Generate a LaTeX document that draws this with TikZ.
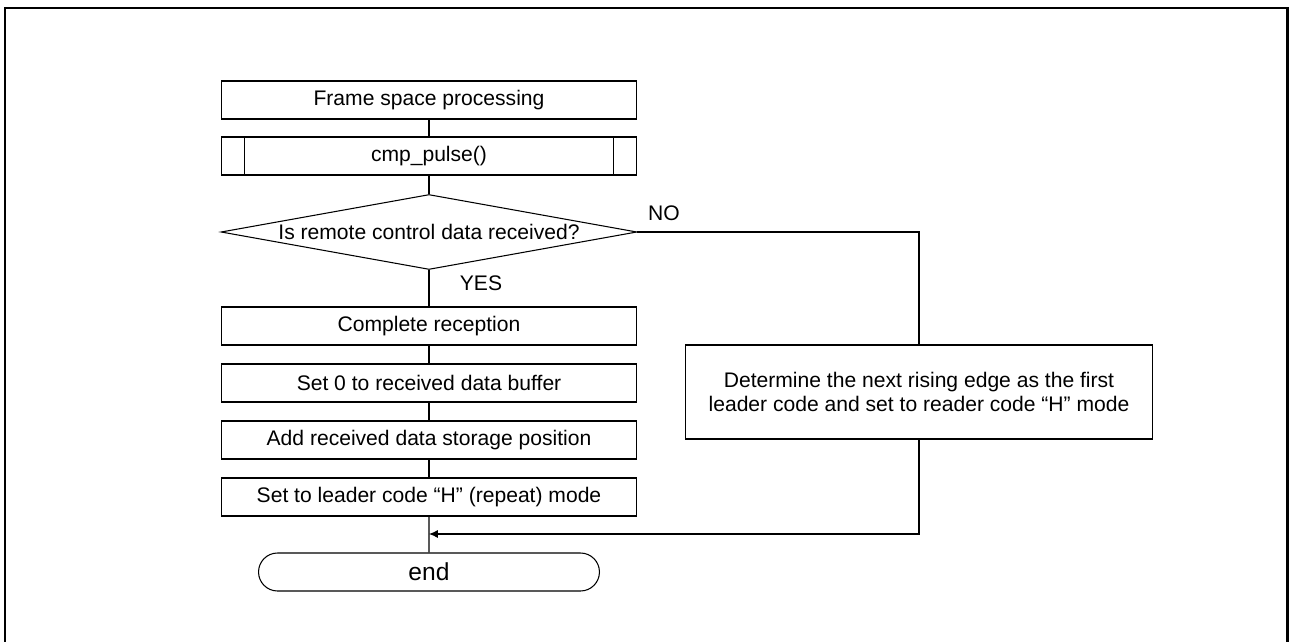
\documentclass[tikz,border=0pt]{standalone}
\usepackage{fontspec}
\setmainfont{Liberation Sans}
\usetikzlibrary{shapes.geometric, shapes.misc, arrows.meta}

\tikzset{
  proc/.style={rectangle, draw, line width=0.6pt, minimum width=8.32cm, minimum height=0.76cm, inner sep=0pt},
  decide/.style={diamond, draw, line width=0.6pt, aspect=5.55, minimum width=8.32cm, minimum height=1.5cm, inner sep=0pt},
  term/.style={rounded rectangle, draw, line width=0.6pt, minimum width=6.82cm, minimum height=0.76cm, inner sep=0pt, font=\fontsize{14pt}{16pt}\selectfont},
  flow/.style={line width=0.6pt}
}

\begin{document}
\begin{tikzpicture}[x=0.02cm, y=-0.02cm, font=\fontsize{12pt}{14pt}\selectfont]

\useasboundingbox (0, 0) rectangle (1289, 642);
\draw[line width=1.7pt] (5, 642) -- (5, 8) -- (1287, 8) -- (1287, 642);

\node [proc] (frame) at (429, 100) {Frame space processing};
\node [proc] (cmp) at (429, 156) {cmp\_pulse()};
\node [decide] (check) at (429, 232) {Is remote control data received?};
\node [proc] (recv) at (429, 326) {Complete reception};
\node [proc] (clear) at (429, 383) {Set 0 to received data buffer};
\node [proc] (addpos) at (429, 440) {Add received data storage position};
\node [proc] (setlead) at (429, 497) {Set to leader code “H” (repeat) mode};
\node [term] (finish) at (429, 572) {end};
\node [rectangle, draw, line width=0.6pt, minimum width=9.36cm, minimum height=1.88cm, align=center, inner sep=0pt] (first) at (919, 392)
  {Determine the next rising edge as the first\\leader code and set to reader code “H” mode};

\node (yes) at (481, 283) {YES};
\node (no) at (664, 213) {NO};
\coordinate (join) at (429, 534);

\draw[flow] ([xshift=0.48cm]cmp.north west) -- ([xshift=0.48cm]cmp.south west);
\draw[flow] ([xshift=-0.48cm]cmp.north east) -- ([xshift=-0.48cm]cmp.south east);

\draw[flow] (frame) -- (cmp);
\draw[flow] (cmp) -- (check);
\draw[flow] (check) -- (recv);
\draw[flow] (recv) -- (clear);
\draw[flow] (clear) -- (addpos);
\draw[flow] (addpos) -- (setlead);
\draw[flow] (setlead) -- (finish);

\draw[flow] (check.east) -| (first.north);
\draw[flow, -{Latex[length=5pt, width=4.5pt]}] (first.south) |- (join);

\end{tikzpicture}
\end{document}
